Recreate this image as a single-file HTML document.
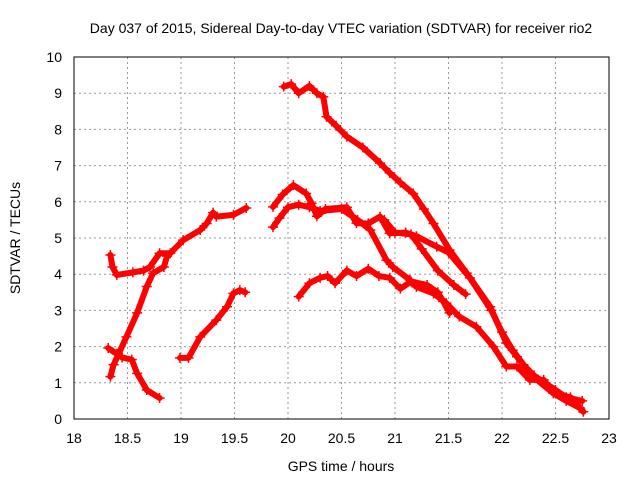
<!DOCTYPE html>
<html><head><meta charset="utf-8"><style>
body{margin:0;background:#fff;}
svg{display:block;font-family:"Liberation Sans",sans-serif;}
</style></head><body>
<svg id="chart" width="640" height="480" viewBox="0 0 640 480">
<rect width="640" height="480" fill="#fff"/>
<text x="341" y="33" font-size="14" text-anchor="middle">Day 037 of 2015, Sidereal Day-to-day VTEC variation (SDTVAR) for receiver rio2</text>
<text x="341" y="471" font-size="14" text-anchor="middle">GPS time / hours</text>
<text transform="translate(20,238) rotate(-90)" font-size="14" text-anchor="middle">SDTVAR / TECUs</text>
<g id="grid"></g>
<g id="ticks"></g>
<g id="series"></g>
<rect x="74" y="57" width="535" height="362" fill="none" stroke="#000" stroke-width="1"/>
</svg>
<script>
const xTicks=[18,18.5,19,19.5,20,20.5,21,21.5,22,22.5,23];
const xTickLabels=["18","18.5","19","19.5","20","20.5","21","21.5","22","22.5","23"];
const yTicks=[0,1,2,3,4,5,6,7,8,9,10];
const yTickLabels=["0","1","2","3","4","5","6","7","8","9","10"];
const seriesA=[[19.96,9.18],[20.03,9.25],[20.1,9.0],[20.2,9.2],[20.27,9.0],[20.33,8.9],[20.36,8.35],[20.45,8.1],[20.55,7.8],[20.7,7.5],[20.86,7.07],[20.95,6.8],[21.05,6.53],[21.17,6.23],[21.27,5.8],[21.36,5.4],[21.51,4.67],[21.67,4.03],[21.89,3.1],[22.04,2.1],[22.14,1.72],[22.29,1.17],[22.48,0.71],[22.6,0.5],[22.73,0.3]];
const seriesB=[[19.86,5.86],[19.95,6.2],[20.05,6.46],[20.17,6.23],[20.22,5.96],[20.27,5.6],[20.35,5.8],[20.55,5.85],[20.64,5.41],[20.75,5.4],[20.86,5.59],[20.95,5.13],[21.1,5.15],[21.2,5.05],[21.39,4.76],[21.5,4.6],[21.7,3.9],[21.9,3.0],[22.0,2.4],[22.1,1.9],[22.2,1.5],[22.3,1.2],[22.4,1.0],[22.5,0.8],[22.6,0.6],[22.75,0.5]];
const seriesC=[[19.86,5.3],[19.92,5.55],[20.0,5.85],[20.1,5.92],[20.2,5.85],[20.3,5.75],[20.5,5.8],[20.65,5.5],[20.77,5.22],[20.92,4.39],[20.98,4.2],[21.14,3.84],[21.2,3.65],[21.36,3.47],[21.48,3.2],[21.6,2.83],[21.76,2.55],[21.92,2.0],[22.04,1.45],[22.14,1.45],[22.26,1.08],[22.39,1.08],[22.48,0.71],[22.64,0.6],[22.76,0.2]];
const seriesD=[[20.9,5.5],[21.0,5.15],[21.15,5.1],[21.25,4.7],[21.4,4.1],[21.55,3.7],[21.66,3.45]];
const seriesE=[[20.1,3.38],[20.2,3.75],[20.3,3.9],[20.37,3.95],[20.44,3.75],[20.55,4.1],[20.64,3.95],[20.75,4.15],[20.85,3.95],[20.95,3.9],[21.05,3.6],[21.15,3.8],[21.3,3.7],[21.4,3.5],[21.45,3.25],[21.51,2.93]];
const seriesF=[[18.34,4.53],[18.36,4.2],[18.4,3.98],[18.55,4.05],[18.65,4.1],[18.71,4.2],[18.8,4.58],[18.9,4.58],[19.02,4.94],[19.18,5.22],[19.24,5.4],[19.3,5.7],[19.33,5.59],[19.49,5.64],[19.61,5.83]];
const seriesG=[[18.34,1.17],[18.37,1.5],[18.49,2.27],[18.59,2.93],[18.68,3.66],[18.74,4.03],[18.84,4.2],[18.87,4.5]];
const seriesH=[[18.32,1.96],[18.4,1.8],[18.45,1.7],[18.54,1.64],[18.59,1.26],[18.68,0.8],[18.8,0.58]];
const seriesI=[[18.99,1.69],[19.07,1.69],[19.18,2.27],[19.33,2.73],[19.43,3.1],[19.49,3.47],[19.55,3.56],[19.6,3.5]];
const allSeries=[seriesA,seriesB,seriesC,seriesD,seriesE,seriesF,seriesG,seriesH,seriesI];
const NS="http://www.w3.org/2000/svg";
const X0=74,X1=609,Y0=419,Y1=57;
function sx(v){return X0+(v-18)/5*(X1-X0);}
function sy(v){return Y0-(v/10)*(Y0-Y1);}
function mk(t,a,p){const e=document.createElementNS(NS,t);for(const k in a)e.setAttribute(k,a[k]);p.appendChild(e);return e;}
const grid=document.getElementById('grid'),ticks=document.getElementById('ticks'),ser=document.getElementById('series');
xTicks.forEach((v,i)=>{
  if(i>0&&i<xTicks.length-1){const g=mk('line',{x1:sx(v),x2:sx(v),y1:Y1,y2:Y0,stroke:'#999','stroke-dasharray':'2,3'},grid);
  
  }
  const t=mk('text',{x:sx(v),y:443,'font-size':14,'text-anchor':'middle'},ticks);t.textContent=xTickLabels[i];
  
  
});
yTicks.forEach((v,i)=>{
  if(i>0&&i<yTicks.length-1){const g=mk('line',{x1:X0,x2:X1,y1:sy(v),y2:sy(v),stroke:'#999','stroke-dasharray':'2,3'},grid);
  
  }
  const t=mk('text',{x:62,y:sy(v)+5,'font-size':14,'text-anchor':'end'},ticks);t.textContent=yTickLabels[i];
  
  
});
allSeries.forEach((s,si)=>{
  const pl=mk('polyline',{points:s.map(p=>sx(p[0])+','+sy(p[1])).join(' '),fill:'none',stroke:'#f00','stroke-width':6,'stroke-linejoin':'round','stroke-linecap':'round'},ser);
  
  
  s.forEach(p=>{
    const x=sx(p[0]),y=sy(p[1]);
    const m=mk('path',{d:`M${x-5},${y}H${x+5}M${x},${y-5}V${y+5}`,stroke:'#f00','stroke-width':1.5},ser);
    
    
  });
});
</script>
</body></html>
